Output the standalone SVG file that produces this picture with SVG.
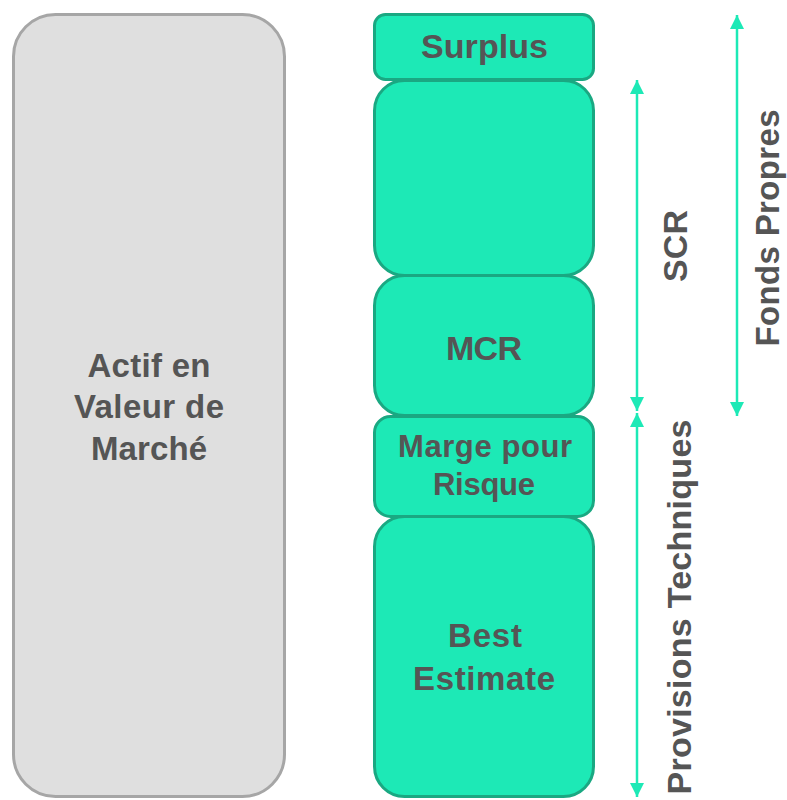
<svg xmlns="http://www.w3.org/2000/svg" width="787" height="800" viewBox="0 0 787 800">
  <style>
    .asset { fill: #dfdfdf; stroke: #a6a6a6; stroke-width: 3; }
    .liab { fill: #1de9b6; stroke: #1aa882; stroke-width: 3; }
    .lbl { font-family: "Liberation Sans", Arial, sans-serif; font-weight: bold; font-size: 34px; fill: #555555; text-anchor: middle; }
    .conn { stroke: #1de9b6; stroke-width: 2.5; fill: none; marker-start: url(#head); marker-end: url(#head); }
  </style>
  <defs>
    <marker id="head" viewBox="0 0 10 10" refX="10" refY="5" markerWidth="14" markerHeight="14" markerUnits="userSpaceOnUse" orient="auto-start-reverse">
      <path d="M0,0 L10,5 L0,10 Z" fill="#1de9b6"/>
    </marker>
  </defs>
  <rect width="787" height="800" fill="#ffffff"/>

  <g id="actif">
    <rect class="asset" x="13.5" y="14.5" width="271" height="782" rx="42" ry="42"/>
    <text class="lbl" x="149" y="377" style="font-size:33px" textLength="123" lengthAdjust="spacing">Actif en</text>
    <text class="lbl" x="149" y="418" style="font-size:33px" textLength="150" lengthAdjust="spacing">Valeur de</text>
    <text class="lbl" x="149" y="460" style="font-size:33px" textLength="116" lengthAdjust="spacing">Marché</text>
  </g>

  <g id="best-estimate">
    <rect class="liab" x="374.5" y="516.5" width="219" height="280" rx="30" ry="30"/>
    <text class="lbl" x="485" y="647" style="font-size:33px" textLength="74" lengthAdjust="spacing">Best</text>
    <text class="lbl" x="484" y="690" style="font-size:33px" textLength="142" lengthAdjust="spacing">Estimate</text>
  </g>

  <g id="marge">
    <rect class="liab" x="374.5" y="416.5" width="219" height="100" rx="16" ry="16"/>
    <text class="lbl" x="485" y="457" style="font-size:31px" textLength="174" lengthAdjust="spacing">Marge pour</text>
    <text class="lbl" x="484" y="495" style="font-size:31px" textLength="102" lengthAdjust="spacing">Risque</text>
  </g>

  <g id="mcr">
    <rect class="liab" x="374.5" y="275.5" width="219" height="140" rx="30" ry="30"/>
    <text class="lbl" x="484" y="360" textLength="76" lengthAdjust="spacing">MCR</text>
  </g>

  <g id="scr">
    <rect class="liab" x="374.5" y="80.5" width="219" height="195" rx="30" ry="30"/>
  </g>

  <g id="surplus">
    <rect class="liab" x="374.5" y="14.5" width="219" height="65" rx="11" ry="11"/>
    <text class="lbl" x="484.5" y="58" textLength="127" lengthAdjust="spacing">Surplus</text>
  </g>

  <g id="connectors">
    <line class="conn" x1="637" y1="80" x2="637" y2="411"/>
    <line class="conn" x1="637" y1="413" x2="637" y2="797"/>
    <line class="conn" x1="737" y1="15" x2="737" y2="416"/>
  </g>

  <g id="labels">
    <text class="lbl" transform="translate(687,246) rotate(-90)" textLength="72" lengthAdjust="spacing">SCR</text>
    <text class="lbl" transform="translate(691,607) rotate(-90)" textLength="375" lengthAdjust="spacing">Provisions Techniques</text>
    <text class="lbl" transform="translate(779,228) rotate(-90)" style="font-size:33px" textLength="237" lengthAdjust="spacing">Fonds Propres</text>
  </g>
</svg>
